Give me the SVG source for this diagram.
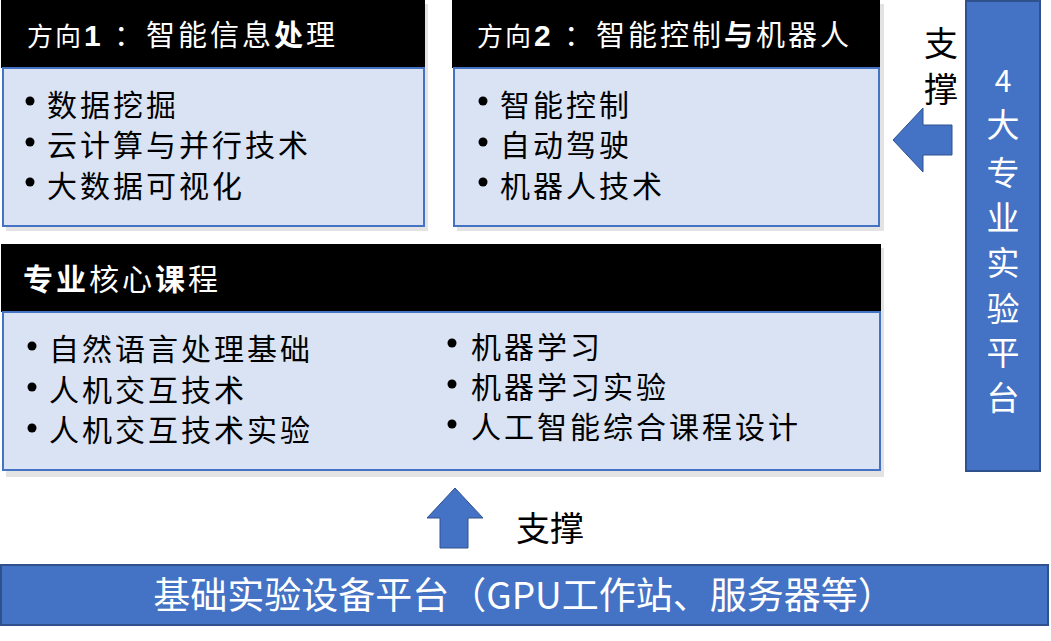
<svg xmlns="http://www.w3.org/2000/svg" width="1051" height="641" viewBox="0 0 1051 641">
<style>
.t{font-family:"Noto Sans CJK SC","Noto Sans",sans-serif}
.hd{fill:#fff;font-size:29px;letter-spacing:3px}
.sm{font-size:26px;letter-spacing:2px}
.num{font-family:"Liberation Sans",Arial,sans-serif;font-weight:bold;font-size:30px}
.b{font-weight:bold}
.it{fill:#000;font-size:30px;letter-spacing:3px}
.hdr{fill:#000}
.body{fill:#DAE3F3;stroke:#4472C4;stroke-width:2}
.sh{fill:#E3E3E3}
.blue{fill:#4472C4;stroke:#2F528F;stroke-width:2}
.arr{fill:#4472C4;stroke:#2F528F;stroke-width:1}
.wt{fill:#fff;font-size:34px}
.lbl{fill:#000;font-size:34px}
</style>
<rect width="1051" height="641" fill="#fff"/>

<g id="dir1">
<rect class="sh" x="6" y="4" width="422" height="227"/>
<rect class="hdr" x="1" y="0" width="424" height="68"/>
<rect class="body" x="3" y="68" width="421" height="158"/>
<text class="t hd" x="27" y="46"><tspan class="sm">方向</tspan><tspan class="num" x="84">1</tspan><tspan x="114">：</tspan><tspan x="146">智能信息</tspan><tspan class="b">处</tspan>理</text>
<circle cx="30" cy="101" r="4.5"/><circle cx="30" cy="142" r="4.5"/><circle cx="30" cy="182" r="4.5"/>
<text class="t it" x="47" y="116">数据挖掘</text>
<text class="t it" x="47" y="156">云计算与并行技术</text>
<text class="t it" x="47" y="197">大数据可视化</text>
</g>

<g id="dir2">
<rect class="sh" x="457" y="4" width="427" height="227"/>
<rect class="hdr" x="452" y="0" width="428" height="68"/>
<rect class="body" x="454" y="68" width="425" height="158"/>
<text class="t hd" x="477" y="46"><tspan class="sm">方向</tspan><tspan class="num" x="534">2</tspan><tspan x="564">：</tspan><tspan x="596">智能控制</tspan><tspan class="b">与</tspan>机器人</text>
<circle cx="483" cy="101" r="4.5"/><circle cx="483" cy="142" r="4.5"/><circle cx="483" cy="182" r="4.5"/>
<text class="t it" x="500" y="116">智能控制</text>
<text class="t it" x="500" y="156">自动驾驶</text>
<text class="t it" x="500" y="197">机器人技术</text>
</g>

<g id="core">
<rect class="sh" x="6" y="248" width="878" height="229"/>
<rect class="hdr" x="1" y="244" width="880" height="68"/>
<rect class="body" x="3" y="312" width="877" height="158"/>
<text class="t hd" x="23" y="290" style="font-size:30px;letter-spacing:3px"><tspan class="b">专业</tspan>核心<tspan class="b">课</tspan>程</text>
<circle cx="32" cy="346" r="4.5"/><circle cx="32" cy="387" r="4.5"/><circle cx="32" cy="428" r="4.5"/>
<text class="t it" x="49" y="360">自然语言处理基础</text>
<text class="t it" x="49" y="401">人机交互技术</text>
<text class="t it" x="49" y="441">人机交互技术实验</text>
<circle cx="452" cy="343" r="4.5"/><circle cx="452" cy="384" r="4.5"/><circle cx="452" cy="424" r="4.5"/>
<text class="t it" x="471" y="358">机器学习</text>
<text class="t it" x="471" y="398">机器学习实验</text>
<text class="t it" x="471" y="438">人工智能综合课程设计</text>
</g>

<g id="platform4">
<rect class="blue" x="966" y="1" width="74" height="470"/>
<text class="t wt" x="1003" y="92" text-anchor="middle" style="font-size:33px"><tspan x="1003" style="font-size:30px">4</tspan><tspan x="1003" dy="45">大</tspan><tspan x="1003" dy="48">专</tspan><tspan x="1003" dy="45">业</tspan><tspan x="1003" dy="45">实</tspan><tspan x="1003" dy="46">验</tspan><tspan x="1003" dy="44">平</tspan><tspan x="1003" dy="45">台</tspan></text>
</g>

<g id="base">
<rect class="blue" x="1" y="565" width="1047" height="60"/>
<text class="t wt" x="524" y="609" text-anchor="middle" style="font-size:37px">基础实验设备平台（GPU工作站、服务器等）</text>
</g>

<g id="connectors">
<path class="arr" d="M893,140 L923,108 L923,125 L952,125 L952,155 L923,155 L923,172 Z"/>
<text class="t lbl" x="941" y="56" text-anchor="middle">支<tspan x="941" dy="46">撑</tspan></text>
<path class="arr" d="M455,488 L483,518 L468,518 L468,548 L440,548 L440,518 L427,518 Z"/>
<text class="t lbl" x="516" y="541">支撑</text>
</g>
</svg>
